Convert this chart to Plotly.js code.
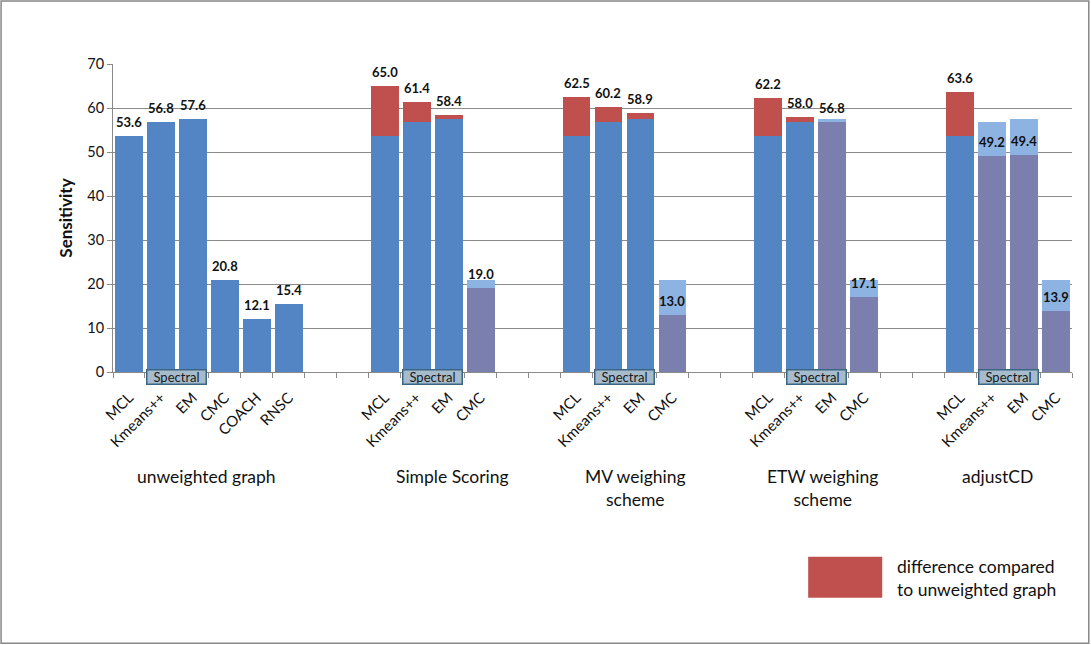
<!DOCTYPE html>
<html>
<head>
<meta charset="utf-8">
<script src="https://cdn.plot.ly/plotly-3.0.1.min.js"></script>
<style>
  html, body { margin: 0; padding: 0; background: #fff; }
  #chart { width: 1091px; height: 645px; }
</style>
</head>
<body>
<div id="chart"></div>
<script>
// ---------- data ----------
const groupNames = ["unweighted graph", "Simple Scoring", "MV weighing<br>scheme", "ETW weighing<br>scheme", "adjustCD"];
const unweightedMethods = ["MCL", "Kmeans++", "EM", "CMC", "COACH", "RNSC"];
const weightedMethods = ["MCL", "Kmeans++", "EM", "CMC"];
const unweighted = [53.6, 56.8, 57.6, 20.8, 12.1, 15.4];
const simpleScoring = [65.0, 61.4, 58.4, 19.0];
const mvScheme = [62.5, 60.2, 58.9, 13.0];
const etwScheme = [62.2, 58.0, 56.8, 17.1];
const adjustCD = [63.6, 49.2, 49.4, 13.9];
const spectralMethods = ["Kmeans++", "EM"];
const legendText = "difference compared<br>to unweighted graph";

// ---------- styling ----------
const FONT = "Lato, 'Open Sans', sans-serif";
const C_BLUE = "#5384c4";
const C_RED = "#c0504d";
const C_PURPLE = "#7a7fae";
const C_LIGHT = "#8db3e2";
const C_GRID = "#8a8a8a";
const GAP_SLOTS = 2;

// ---------- build slots ----------
const groups = [
  { name: groupNames[0], methods: unweightedMethods, values: unweighted, ref: null },
  { name: groupNames[1], methods: weightedMethods, values: simpleScoring, ref: unweighted },
  { name: groupNames[2], methods: weightedMethods, values: mvScheme, ref: unweighted },
  { name: groupNames[3], methods: weightedMethods, values: etwScheme, ref: unweighted },
  { name: groupNames[4], methods: weightedMethods, values: adjustCD, ref: unweighted }
];

const xs = [], baseY = [], baseC = [], topY = [], topC = [], labelY = [], labelT = [];
const tickVals = [], tickText = [];
const groupCenters = [], spectralCenters = [];
let pos = 0;
groups.forEach((g, gi) => {
  const start = pos;
  const specIdx = [];
  g.methods.forEach((m, i) => {
    const v = g.values[i];
    const u = g.ref ? g.ref[i] : v;
    xs.push(pos);
    if (v >= u) {
      baseY.push(u); baseC.push(C_BLUE);
      topY.push(v - u); topC.push(C_RED);
    } else {
      baseY.push(v); baseC.push(C_PURPLE);
      topY.push(u - v); topC.push(C_LIGHT);
    }
    labelY.push(v); labelT.push(v.toFixed(1));
    tickVals.push(pos); tickText.push(m);
    if (spectralMethods.indexOf(m) >= 0) specIdx.push(pos);
    pos++;
  });
  groupCenters.push((start + pos - 1) / 2);
  spectralCenters.push((specIdx[0] + specIdx[specIdx.length - 1]) / 2);
  if (gi < groups.length - 1) pos += GAP_SLOTS;
});
const nSlots = pos;
const boundaries = [];
for (let i = 0; i <= nSlots; i++) boundaries.push(i - 0.5);

// small manual offsets of the group captions (as placed in the original)
const groupShift = [-0.07, 0.63, 0.36, 0.18, -0.34];

const traces = [
  { type: "bar", x: xs, y: baseY, marker: { color: baseC, line: { width: 0 } }, hoverinfo: "y", showlegend: false },
  { type: "bar", x: xs, y: topY, marker: { color: topC, line: { width: 0 } }, hoverinfo: "y", showlegend: false }
];

const annotations = [];
xs.forEach((x, i) => {
  annotations.push({
    x: x, y: labelY[i], xref: "x", yref: "y", text: "<b>" + labelT[i] + "</b>",
    showarrow: false, yanchor: "middle", yshift: 14,
    font: { family: FONT, size: 13, color: "#111" }
  });
});
groupCenters.forEach((c, i) => {
  annotations.push({
    x: c + groupShift[i], y: -0.3, xref: "x", yref: "paper", text: groups[i].name,
    showarrow: false, yanchor: "top", xanchor: "center", align: "center",
    font: { family: FONT, size: 17.5, color: "#111" }
  });
});
spectralCenters.forEach(c => {
  annotations.push({
    x: c, y: 0, xref: "x", yref: "y", text: "Spectral", showarrow: false,
    yanchor: "top", yshift: 3, width: 58, height: 13, borderpad: 0,
    bgcolor: "#a6bccd", bordercolor: "#3b6683", borderwidth: 1.5,
    font: { family: FONT, size: 13, color: "#1a1a1a" }
  });
});
annotations.push({
  x: 0.8156, y: -0.668, xref: "paper", yref: "paper", text: legendText,
  showarrow: false, xanchor: "left", yanchor: "middle", align: "left",
  font: { family: FONT, size: 17.5, color: "#111" }
});

const shapes = [
  { type: "rect", xref: "paper", yref: "paper", x0: 0.7249, x1: 0.8021, y0: -0.7329, y1: -0.5996,
    fillcolor: C_RED, line: { width: 0 } },
  { type: "rect", xref: "paper", yref: "paper", x0: -0.1167, x1: 1.0175, y0: -0.881, y1: 1.2043,
    fillcolor: "rgba(0,0,0,0)", line: { color: "#878787", width: 1.5 }, layer: "below" }
];

const layout = {
  width: 1091, height: 645,
  margin: { l: 113, r: 19, t: 64, b: 273 },
  paper_bgcolor: "#ffffff", plot_bgcolor: "#ffffff",
  barmode: "stack", bargap: 0.13,
  showlegend: false,
  font: { family: FONT, color: "#111" },
  xaxis: {
    type: "linear", range: [-0.5, nSlots - 0.5], fixedrange: true,
    tickmode: "array", tickvals: tickVals, ticktext: tickText, tickangle: -45,
    ticks: "", showgrid: false, zeroline: false, ticklabelstandoff: 10,
    showline: true, linecolor: C_GRID, linewidth: 1,
    tickfont: { family: FONT, size: 15, color: "#111" },
    minor: { tickmode: "array", tickvals: boundaries, ticks: "outside", ticklen: 5, tickcolor: C_GRID, showgrid: false }
  },
  yaxis: {
    range: [0, 70], dtick: 10, tick0: 0, fixedrange: true,
    ticks: "outside", ticklen: 5, tickcolor: C_GRID,
    showline: true, linecolor: C_GRID, linewidth: 1,
    gridcolor: C_GRID, gridwidth: 1, zeroline: false,
    tickfont: { family: FONT, size: 14.5, color: "#111" },
    title: { text: "<b>Sensitivity</b>", font: { family: FONT, size: 17, color: "#111" }, standoff: 10 }
  },
  annotations: annotations,
  shapes: shapes
};

Plotly.newPlot("chart", traces, layout, { displayModeBar: false, staticPlot: true });
</script>
</body>
</html>
